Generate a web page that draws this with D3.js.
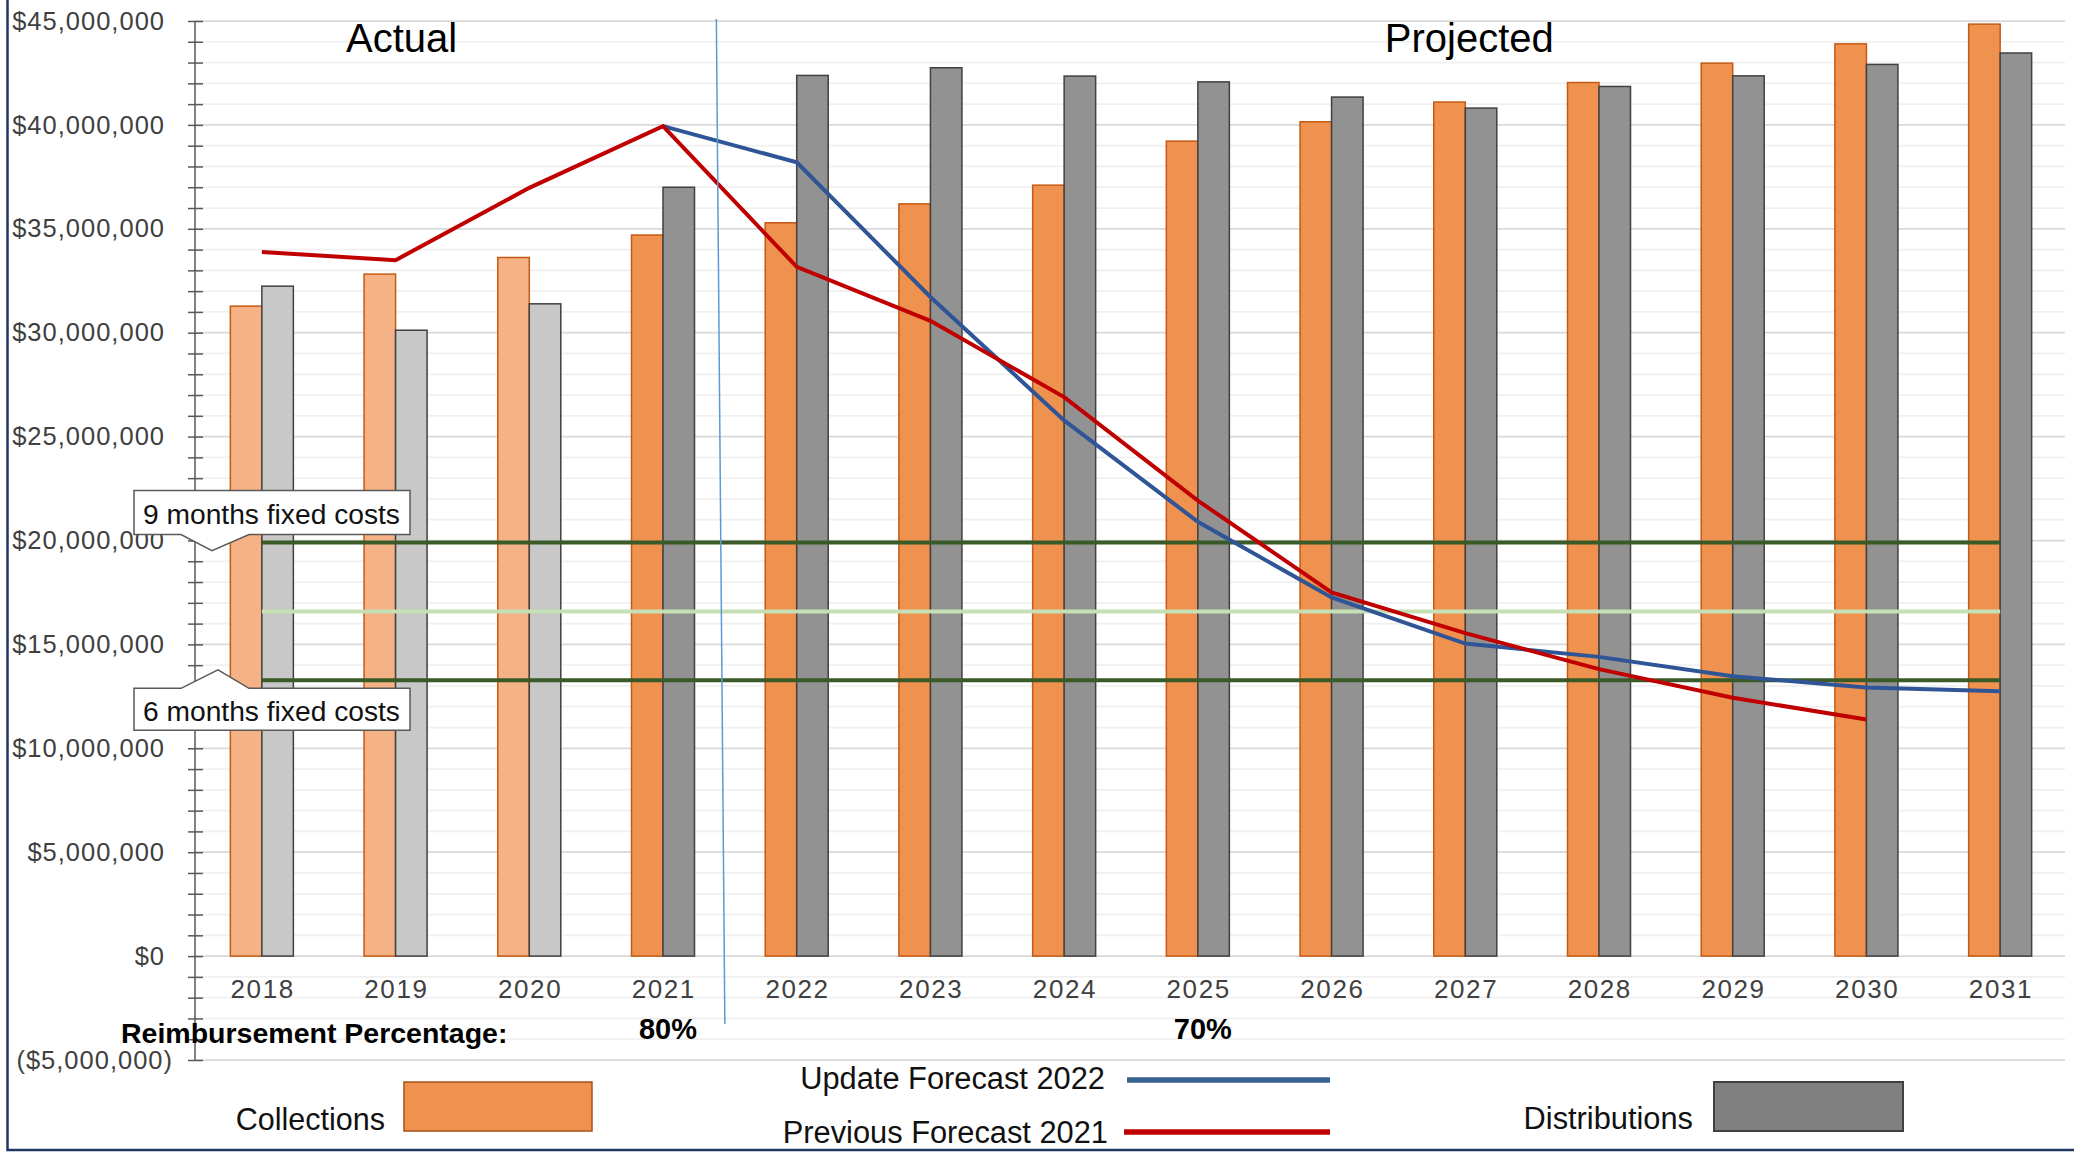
<!DOCTYPE html>
<html>
<head>
<meta charset="utf-8">
<script src="https://cdn.jsdelivr.net/npm/d3@7"></script>
<style>
  body { margin: 0; background: #ffffff; }
  svg { display: block; font-family: "Liberation Sans", Arial, sans-serif; }
</style>
</head>
<body>
<div id="chart"></div>
<script>
// Data
var years = ["2018", "2019", "2020", "2021", "2022", "2023", "2024", "2025", "2026", "2027", "2028", "2029", "2030", "2031"];
var actualYears = ["2018", "2019", "2020"];

var collections = [31.28, 32.82, 33.62, 34.70, 35.29, 36.20, 37.10, 39.22, 40.15, 41.10, 42.04, 42.97, 43.90, 44.85];
var distributions = [32.24, 30.12, 31.39, 37.00, 42.38, 42.75, 42.35, 42.07, 41.34, 40.81, 41.85, 42.36, 42.91, 43.46];

var previousForecast = [33.88, 33.49, 36.97, 39.94, 33.17, 30.57, 26.90, 21.92, 17.50, 15.54, 13.81, 12.43, 11.39, null];
var updateForecast = [null, null, null, 39.94, 38.20, 31.72, 25.78, 20.90, 17.26, 15.04, 14.40, 13.47, 12.93, 12.75];

// fixed cost reference lines (millions)
var nineMonths = 19.90;
var midLevel = 16.58;
var sixMonths = 13.27;

var reimbursement = [{year: "2021", label: "80%"}, {year: "2025", label: "70%"}];

var yMajorTicks = [-5, 0, 5, 10, 15, 20, 25, 30, 35, 40, 45];

// Width and Height of the whole picture
var width = 2074;
var height = 1153;

var svg = d3.select("#chart")
  .append("svg")
  .attr("width", width)
  .attr("height", height);

// Scales
var x = d3.scaleBand()
  .domain(years)
  .range([195, 2067])
  .padding(0);

var y = d3.scaleLinear()
  .domain([-5, 45])
  .range([1060, 21]);

var barW = x.step() * 0.2356;
function cx(d) { return x(d) + x.bandwidth() / 2; }

// Gridlines (minor every 1M, major every 5M)
svg.append("g")
  .attr("class", "minor-grid")
  .selectAll("line")
  .data(d3.range(-5, 45.1, 1).filter(function(v) { return v % 5 != 0; }))
  .enter().append("line")
  .attr("x1", 195).attr("x2", 2065)
  .attr("y1", function(d) { return y(d); })
  .attr("y2", function(d) { return y(d); })
  .style("stroke", "#f0f0f0")
  .style("stroke-width", 1.75);

svg.append("g")
  .attr("class", "major-grid")
  .selectAll("line")
  .data(yMajorTicks)
  .enter().append("line")
  .attr("x1", 195).attr("x2", 2065)
  .attr("y1", function(d) { return y(d); })
  .attr("y2", function(d) { return y(d); })
  .style("stroke", "#d9d9d9")
  .style("stroke-width", 1.75);

// Y axis
var fmt = d3.format(",");
var yAxis = d3.axisLeft(y)
  .tickValues(d3.range(-5, 45.1, 1))
  .tickSize(0)
  .tickFormat(function(v) {
    if (yMajorTicks.indexOf(v) < 0) return "";
    if (v < 0) return "($" + fmt(-v * 1e6) + ")";
    return "$" + fmt(v * 1e6);
  });

var yg = svg.append("g")
  .attr("class", "y-axis")
  .attr("transform", "translate(195,0)")
  .call(yAxis);

yg.select(".domain").remove();
yg.selectAll(".tick line")
  .attr("x1", -7).attr("x2", 8)
  .style("stroke", "#595959")
  .style("stroke-width", 1.5);
yg.selectAll(".tick text")
  .attr("x", function(d) { return d < 0 ? -22 : -30; })
  .style("font-size", "25.5px")
  .style("letter-spacing", "1px")
  .style("font-family", "'Liberation Sans', Arial, sans-serif")
  .style("fill", "#404040");

yg.append("line")
  .attr("x1", 0).attr("x2", 0)
  .attr("y1", y(45)).attr("y2", y(-5))
  .style("stroke", "#595959")
  .style("stroke-width", 1.5);

// X axis labels
var xg = svg.append("g")
  .attr("class", "x-axis")
  .attr("transform", "translate(0," + y(0) + ")")
  .call(d3.axisBottom(x).tickSize(0).tickPadding(23));

xg.select(".domain").remove();
xg.selectAll(".tick text")
  .attr("dx", "0.8px")
  .style("font-size", "26px")
  .style("letter-spacing", "1.6px")
  .style("font-family", "'Liberation Sans', Arial, sans-serif")
  .style("fill", "#404040");

// Bars
var isActual = function(d) { return actualYears.indexOf(d) >= 0; };

svg.append("g")
  .attr("class", "collections")
  .selectAll("rect")
  .data(years)
  .enter().append("rect")
  .attr("x", function(d) { return cx(d) - barW; })
  .attr("y", function(d, i) { return y(collections[i]); })
  .attr("width", barW)
  .attr("height", function(d, i) { return y(0) - y(collections[i]); })
  .style("fill", function(d) { return isActual(d) ? "#f4b286" : "#ef914f"; })
  .style("stroke", "#c55a11")
  .style("stroke-width", 1.5);

svg.append("g")
  .attr("class", "distributions")
  .selectAll("rect")
  .data(years)
  .enter().append("rect")
  .attr("x", function(d) { return cx(d); })
  .attr("y", function(d, i) { return y(distributions[i]); })
  .attr("width", barW)
  .attr("height", function(d, i) { return y(0) - y(distributions[i]); })
  .style("fill", function(d) { return isActual(d) ? "#c8c8c8" : "#929292"; })
  .style("stroke", "#404040")
  .style("stroke-width", 1.5);

// Fixed cost lines
var x0 = cx(years[0]);
var x1 = cx(years[years.length - 1]);

svg.append("g")
  .attr("class", "fixed-costs")
  .selectAll("line")
  .data([
    {v: midLevel, c: "#c5e0b4"},
    {v: nineMonths, c: "#3a5a27"},
    {v: sixMonths, c: "#3a5a27"}
  ])
  .enter().append("line")
  .attr("x1", x0).attr("x2", x1)
  .attr("y1", function(d) { return y(d.v); })
  .attr("y2", function(d) { return y(d.v); })
  .style("stroke", function(d) { return d.c; })
  .style("stroke-width", 4);

// Forecast lines
var line = d3.line()
  .defined(function(d) { return d.v != null; })
  .x(function(d) { return cx(d.year); })
  .y(function(d) { return y(d.v); });

function series(arr) {
  return years.map(function(yr, i) { return {year: yr, v: arr[i]}; });
}

svg.append("path")
  .datum(series(updateForecast))
  .attr("d", line)
  .style("fill", "none")
  .style("stroke", "#2f5597")
  .style("stroke-width", 4);

svg.append("path")
  .datum(series(previousForecast))
  .attr("d", line)
  .style("fill", "none")
  .style("stroke", "#c00000")
  .style("stroke-width", 4);

// Divider between actual and projected
var xd = x("2022");
svg.append("line")
  .attr("x1", xd - 13.5).attr("y1", 19)
  .attr("x2", xd - 5).attr("y2", 1024)
  .style("stroke", "#5b9bd5")
  .style("stroke-width", 1.5);

// Headings
svg.append("text")
  .attr("x", cx("2019") + 6)
  .attr("y", 52)
  .attr("text-anchor", "middle")
  .style("font-size", "40px")
  .style("fill", "#000")
  .text("Actual");

svg.append("text")
  .attr("x", cx("2027") + 4)
  .attr("y", 52)
  .attr("text-anchor", "middle")
  .style("font-size", "40px")
  .style("fill", "#000")
  .text("Projected");

// Callouts
var yn = y(nineMonths);
svg.append("path")
  .attr("d", "M134," + (yn - 52) + "H410V" + (yn - 8) + "H249L212," + (yn + 8) + "L181," + (yn - 8) + "H134Z")
  .style("fill", "#fff")
  .style("stroke", "#595959")
  .style("stroke-width", 1.5);
svg.append("text")
  .attr("x", 143)
  .attr("y", yn - 19)
  .style("font-size", "28.2px")
  .style("fill", "#111")
  .text("9 months fixed costs");

var ys = y(sixMonths);
svg.append("path")
  .attr("d", "M134," + (ys + 8) + "H181L218," + (ys - 10.5) + "L249," + (ys + 8) + "H410V" + (ys + 50) + "H134Z")
  .style("fill", "#fff")
  .style("stroke", "#595959")
  .style("stroke-width", 1.5);
svg.append("text")
  .attr("x", 143)
  .attr("y", ys + 41)
  .style("font-size", "28.2px")
  .style("fill", "#111")
  .text("6 months fixed costs");

// Reimbursement percentage row
svg.append("text")
  .attr("x", 121)
  .attr("y", 1043)
  .style("font-size", "28.5px")
  .style("font-weight", "bold")
  .style("fill", "#000")
  .text("Reimbursement Percentage:");

svg.selectAll(".pct")
  .data(reimbursement)
  .enter().append("text")
  .attr("class", "pct")
  .attr("x", function(d) { return cx(d.year) + 5; })
  .attr("y", 1039)
  .attr("text-anchor", "middle")
  .style("font-size", "29px")
  .style("font-weight", "bold")
  .style("fill", "#000")
  .text(function(d) { return d.label; });

// Legend
var legend = svg.append("g").attr("class", "legend");

legend.append("text")
  .attr("x", 385).attr("y", 1130)
  .attr("text-anchor", "end")
  .style("font-size", "30.5px").style("fill", "#111")
  .text("Collections");
legend.append("rect")
  .attr("x", 404).attr("y", 1082)
  .attr("width", 188).attr("height", 49)
  .style("fill", "#ef914f")
  .style("stroke", "#a9501a")
  .style("stroke-width", 1.5);

legend.append("text")
  .attr("x", 1105).attr("y", 1089)
  .attr("text-anchor", "end")
  .style("font-size", "30.8px").style("fill", "#111")
  .text("Update Forecast 2022");
legend.append("line")
  .attr("x1", 1127).attr("x2", 1330)
  .attr("y1", 1080).attr("y2", 1080)
  .style("stroke", "#3b6190")
  .style("stroke-width", 5.5);

legend.append("text")
  .attr("x", 1108).attr("y", 1143)
  .attr("text-anchor", "end")
  .style("font-size", "30.8px").style("fill", "#111")
  .text("Previous Forecast 2021");
legend.append("line")
  .attr("x1", 1124).attr("x2", 1330)
  .attr("y1", 1132).attr("y2", 1132)
  .style("stroke", "#c00000")
  .style("stroke-width", 5.5);

legend.append("text")
  .attr("x", 1693).attr("y", 1129)
  .attr("text-anchor", "end")
  .style("font-size", "30.8px").style("fill", "#111")
  .text("Distributions");
legend.append("rect")
  .attr("x", 1714).attr("y", 1082)
  .attr("width", 189).attr("height", 49)
  .style("fill", "#808080")
  .style("stroke", "#404040")
  .style("stroke-width", 2);

// Frame (left and bottom edges)
svg.append("path")
  .attr("d", "M7.5,0V1150H2074")
  .style("fill", "none")
  .style("stroke", "#203864")
  .style("stroke-width", 2.5);
</script>
</body>
</html>
